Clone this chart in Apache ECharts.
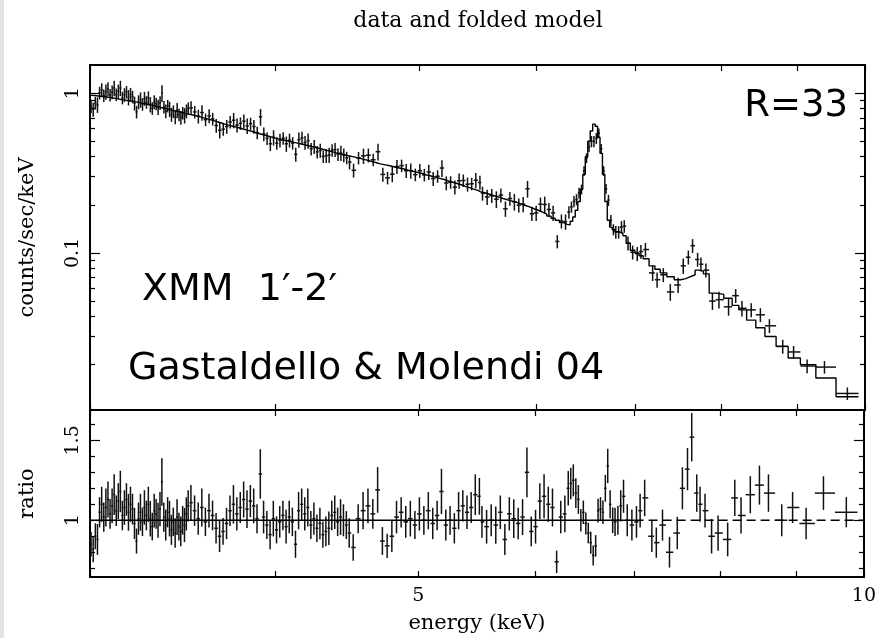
<!DOCTYPE html>
<html>
<head>
<meta charset="utf-8">
<script src="https://cdn.jsdelivr.net/npm/echarts@6/dist/echarts.min.js"></script>
<style>
html,body{margin:0;padding:0;background:#fff;}
#chart{width:879px;height:638px;}
</style>
</head>
<body>
<div id="chart"></div>
<script>
// ---------------- DATA ----------------
// bin centre energies (keV)
const energy = [
  3.005,3.015,3.025,3.035,3.045,3.055,3.065,3.075,3.085,3.095,
  3.105,3.115,3.125,3.135,3.145,3.155,3.165,3.175,3.185,3.195,
  3.205,3.215,3.225,3.235,3.245,3.255,3.265,3.275,3.285,3.295,
  3.305,3.315,3.325,3.335,3.345,3.355,3.365,3.375,3.385,3.395,
  3.405,3.415,3.425,3.435,3.445,3.455,3.465,3.475,3.485,3.495,
  3.51,3.53,3.55,3.57,3.59,3.61,3.63,3.65,3.67,3.69,
  3.71,3.73,3.75,3.77,3.79,3.81,3.83,3.85,3.87,3.89,
  3.91,3.93,3.95,3.97,3.99,4.01,4.03,4.05,4.07,4.09,
  4.11,4.13,4.15,4.17,4.19,4.21,4.23,4.25,4.27,4.29,
  4.31,4.33,4.35,4.37,4.39,4.41,4.43,4.45,4.47,4.49,
  4.518,4.553,4.588,4.623,4.658,4.693,4.728,4.763,4.798,4.833,
  4.868,4.903,4.938,4.973,5.008,5.043,5.078,5.113,5.148,5.183,
  5.218,5.253,5.288,5.323,5.358,5.393,5.428,5.463,5.498,
  5.52,5.56,5.60,5.64,5.68,5.72,5.76,5.80,5.84,5.88,
  5.92,5.96,6.00,6.04,6.08,6.12,6.16,6.20,6.24,6.28,
  6.313,6.338,6.363,6.388,6.413,6.438,6.463,6.488,6.513,6.538,
  6.563,6.588,6.613,6.638,6.663,6.688,6.713,6.738,
  6.765,6.79,6.82,6.85,6.88,6.92,6.97,7.02,7.06,7.11,
  7.19,7.24,7.31,7.39,7.48,7.54,7.60,7.65,7.71,7.75,
  7.81,7.89,7.97,8.09,8.18,8.26,8.38,8.50,8.62,8.80,
  8.95,9.14,9.39,9.73
];
// folded model (counts/sec/keV) per bin
const model = [
  0.968,0.966,0.963,0.960,0.957,0.953,0.949,0.945,0.941,0.937,
  0.932,0.928,0.923,0.918,0.913,0.908,0.904,0.900,0.896,0.892,
  0.887,0.882,0.877,0.872,0.867,0.862,0.857,0.852,0.847,0.842,
  0.837,0.831,0.825,0.819,0.813,0.807,0.802,0.797,0.792,0.787,
  0.782,0.777,0.772,0.767,0.762,0.757,0.752,0.747,0.742,0.737,
  0.730,0.720,0.710,0.700,0.690,0.680,0.670,0.660,0.650,0.640,
  0.631,0.623,0.615,0.607,0.599,0.591,0.583,0.575,0.567,0.559,
  0.551,0.544,0.537,0.530,0.523,0.517,0.512,0.507,0.502,0.497,
  0.492,0.487,0.482,0.477,0.472,0.467,0.462,0.457,0.452,0.447,
  0.442,0.437,0.432,0.427,0.422,0.418,0.414,0.410,0.406,0.402,
  0.396,0.389,0.382,0.375,0.368,0.361,0.356,0.351,0.345,0.340,
  0.335,0.330,0.324,0.319,0.314,0.308,0.303,0.298,0.293,0.288,
  0.282,0.277,0.272,0.267,0.261,0.256,0.251,0.246,0.240,
  0.238,0.233,0.228,0.224,0.219,0.215,0.211,0.207,0.203,0.198,
  0.194,0.189,0.185,0.180,0.175,0.170,0.165,0.160,0.155,0.151,
  0.150,0.158,0.168,0.185,0.210,0.250,0.310,0.400,0.500,0.580,
  0.640,0.620,0.530,0.420,0.310,0.210,0.160,0.145,
  0.140,0.136,0.135,0.133,0.128,0.115,0.104,0.100,0.096,0.092,
  0.083,0.079,0.075,0.071,0.068,0.069,0.071,0.073,0.078,0.077,
  0.074,0.056,0.055,0.052,0.047,0.044,0.038,0.034,0.030,0.026,
  0.022,0.020,0.0165,0.0126
];
// measured data (counts/sec/keV)
const counts = [
  0.823,0.792,0.867,0.845,1.005,1.048,0.968,1.021,1.063,0.974,
  1.016,1.076,0.978,1.028,1.077,0.935,0.976,1.017,0.941,0.981,
  0.949,0.864,0.763,0.881,0.910,0.853,0.926,0.878,0.932,0.850,
  0.804,0.881,0.858,0.819,0.870,1.001,0.818,0.773,0.832,0.795,
  0.735,0.769,0.710,0.782,0.732,0.704,0.752,0.725,0.772,0.803,
  0.810,0.763,0.717,0.756,0.683,0.721,0.690,0.627,0.585,0.595,
  0.618,0.660,0.677,0.631,0.647,0.668,0.624,0.644,0.618,0.565,
  0.711,0.555,0.521,0.482,0.528,0.486,0.507,0.522,0.482,0.507,
  0.487,0.414,0.511,0.525,0.491,0.504,0.448,0.462,0.429,0.438,
  0.402,0.406,0.410,0.440,0.443,0.414,0.422,0.410,0.394,0.370,
  0.329,0.393,0.405,0.409,0.383,0.430,0.310,0.295,0.311,0.347,
  0.352,0.327,0.327,0.309,0.327,0.308,0.321,0.292,0.302,0.340,
  0.274,0.277,0.258,0.283,0.284,0.269,0.271,0.285,0.276,
  0.236,0.224,0.228,0.217,0.230,0.189,0.219,0.209,0.199,0.202,
  0.252,0.176,0.178,0.202,0.201,0.187,0.178,0.118,0.158,0.157,
  0.180,0.194,0.210,0.216,0.237,0.250,0.326,0.392,0.460,0.499,
  0.499,0.521,0.562,0.449,0.326,0.252,0.214,0.160,
  0.140,0.135,0.135,0.145,0.147,0.115,0.101,0.099,0.102,0.105,
  0.075,0.068,0.073,0.057,0.063,0.083,0.094,0.111,0.091,0.085,
  0.078,0.050,0.051,0.046,0.054,0.045,0.044,0.041,0.035,0.026,
  0.024,0.0196,0.0193,0.0132
];
// data / model ratio
const ratio = [
  0.85,0.82,0.90,0.88,1.05,1.10,1.02,1.08,1.13,1.04,
  1.09,1.16,1.06,1.12,1.18,1.03,1.08,1.13,1.05,1.10,
  1.07,0.98,0.87,1.01,1.05,0.99,1.08,1.03,1.10,1.01,
  0.96,1.06,1.04,1.00,1.07,1.24,1.02,0.97,1.05,1.01,
  0.94,0.99,0.92,1.02,0.96,0.93,1.00,0.97,1.04,1.09,
  1.11,1.06,1.01,1.08,0.99,1.06,1.03,0.95,0.90,0.93,
  0.98,1.06,1.10,1.04,1.08,1.13,1.07,1.12,1.09,1.01,
  1.29,1.02,0.97,0.91,1.01,0.94,0.99,1.03,0.96,1.02,
  0.99,0.85,1.06,1.10,1.04,1.08,0.97,1.01,0.95,0.98,
  0.91,0.93,0.95,1.03,1.05,0.99,1.02,1.00,0.97,0.92,
  0.83,1.01,1.06,1.09,1.04,1.19,0.87,0.84,0.90,1.02,
  1.05,0.99,1.01,0.97,1.04,1.00,1.06,0.98,1.03,1.18,
  0.97,1.00,0.95,1.06,1.09,1.05,1.08,1.16,1.15,
  0.99,0.96,1.00,0.97,1.05,0.88,1.04,1.01,0.98,1.02,
  1.30,0.93,0.96,1.12,1.15,1.10,1.08,0.74,1.02,1.04,
  1.20,1.23,1.25,1.17,1.13,1.00,1.05,0.98,0.92,0.86,
  0.78,0.84,1.06,1.07,1.05,1.20,1.34,1.10,
  1.00,0.99,1.00,1.09,1.15,1.00,0.97,0.99,1.06,1.14,
  0.90,0.86,0.97,0.80,0.92,1.20,1.32,1.52,1.17,1.10,
  1.06,0.90,0.92,0.88,1.14,1.03,1.16,1.22,1.17,1.00,
  1.08,0.98,1.17,1.05
];
// fractional 1-sigma error of each bin
const fracErr = [
  0.09,0.10,0.09,0.11,0.09,0.10,0.09,0.11,0.10,0.09,
  0.10,0.11,0.09,0.10,0.11,0.09,0.10,0.09,0.11,0.10,
  0.09,0.10,0.09,0.10,0.11,0.09,0.10,0.09,0.10,0.11,
  0.09,0.10,0.09,0.11,0.10,0.12,0.09,0.10,0.09,0.11,
  0.10,0.09,0.10,0.11,0.09,0.10,0.09,0.11,0.10,0.09,
  0.10,0.09,0.10,0.11,0.09,0.10,0.09,0.10,0.11,0.09,
  0.10,0.09,0.11,0.10,0.09,0.10,0.11,0.09,0.10,0.09,
  0.12,0.10,0.09,0.10,0.11,0.09,0.10,0.09,0.11,0.10,
  0.09,0.10,0.11,0.09,0.10,0.11,0.09,0.10,0.09,0.10,
  0.09,0.10,0.11,0.09,0.10,0.09,0.11,0.10,0.09,0.10,
  0.10,0.09,0.11,0.10,0.09,0.12,0.10,0.09,0.11,0.10,
  0.09,0.10,0.11,0.09,0.10,0.09,0.11,0.10,0.09,0.12,
  0.10,0.09,0.10,0.11,0.09,0.10,0.09,0.11,0.10,
  0.10,0.11,0.10,0.12,0.10,0.11,0.10,0.12,0.10,0.11,
  0.12,0.10,0.11,0.10,0.12,0.10,0.11,0.095,0.10,0.11,
  0.09,0.08,0.08,0.08,0.08,0.07,0.07,0.07,0.07,0.08,
  0.08,0.08,0.07,0.07,0.07,0.07,0.08,0.08,
  0.08,0.09,0.09,0.09,0.09,0.10,0.10,0.10,0.10,0.10,
  0.11,0.11,0.10,0.12,0.11,0.11,0.10,0.10,0.10,0.10,
  0.10,0.12,0.12,0.12,0.10,0.11,0.10,0.10,0.10,0.10,
  0.09,0.10,0.09,0.09
];

// axis ranges and tick values
const xRange = [3, 10];
const xTicks = [3, 4, 5, 6, 7, 8, 9, 10];
const xLabels = [5, 10];
const yTopRange = [0.0104, 1.5];
const yTopMajor = [0.1, 1];
const yTopMinor = [0.02,0.03,0.04,0.05,0.06,0.07,0.08,0.09,0.2,0.3,0.4,0.5,0.6,0.7,0.8,0.9];
const yRatioRange = [0.645, 1.69];
const yRatioMajor = [1, 1.5];
const yRatioMinor = [0.7,0.8,0.9,1.1,1.2,1.3,1.4,1.6];
const ratioDashFrom = 7.0;   // ratio = 1 reference line looks dashed only where bins are wide

// texts
const titleText = 'data and folded model';
const xName = 'energy (keV)';
const yTopName = 'counts/sec/keV';
const yRatioName = 'ratio';
const noteR = 'R=33';
const noteXMM = "XMM  1\u2032-2\u2032";
const noteRef = 'Gastaldello & Molendi 04';

// ---------------- CHART ----------------
const L = Math.log10;
const n = energy.length;
const lo = [], hi = [];
for (let i = 0; i < n; i++) {
  lo.push(i === 0 ? energy[0] - (energy[1] - energy[0]) / 2 : (energy[i - 1] + energy[i]) / 2);
  hi.push(i === n - 1 ? energy[n - 1] + (energy[n - 1] - energy[n - 2]) / 2 : (energy[i] + energy[i + 1]) / 2);
}
const topErr = energy.map((e, i) => [L(e), L(lo[i]), L(hi[i]), L(counts[i]),
  L(counts[i] * (1 - fracErr[i])), L(counts[i] * (1 + fracErr[i]))]);
const ratErr = energy.map((e, i) => [L(e), L(lo[i]), L(hi[i]), ratio[i],
  ratio[i] * (1 - fracErr[i]), ratio[i] * (1 + fracErr[i])]);
const modelLine = energy.map((e, i) => [L(lo[i]), L(model[i])]);
modelLine.push([L(hi[n - 1]), L(model[n - 1])]);

const INK = '#000';
const serif = '"DejaVu Serif", "Liberation Serif", serif';
const hand = '"Comic Sans MS", "DejaVu Sans", sans-serif';

function errItem(params, api) {
  const xc = api.value(0), xl = api.value(1), xh = api.value(2);
  const y = api.value(3), yl = api.value(4), yh = api.value(5);
  const a = api.coord([xl, y]), b = api.coord([xh, y]);
  const c = api.coord([xc, yl]), d = api.coord([xc, yh]);
  const st = { stroke: '#111', lineWidth: 1.5 };
  return { type: 'group', children: [
    { type: 'line', shape: { x1: a[0], y1: a[1], x2: b[0], y2: b[1] }, style: st },
    { type: 'line', shape: { x1: c[0], y1: c[1], x2: d[0], y2: d[1] }, style: st }
  ]};
}

function xAx(gi, pos, withLabels, name) {
  return {
    type: 'value', gridIndex: gi, position: pos,
    min: L(xRange[0]), max: L(xRange[1]),
    name: name || '', nameLocation: 'middle', nameGap: 36,
    nameTextStyle: { color: INK, fontFamily: serif, fontSize: 21 },
    axisLine: { show: true, onZero: false, lineStyle: { color: INK, width: 1.8 } },
    axisTick: { show: true, inside: true, length: 6, customValues: xTicks.map(L),
      lineStyle: { color: INK, width: 1.2 } },
    axisLabel: { show: !!withLabels, customValues: xLabels.map(L), margin: 10,
      formatter: v => String(Math.round(Math.pow(10, v))),
      color: INK, fontFamily: serif, fontSize: 19 },
    splitLine: { show: false }
  };
}

function yAx(gi, pos, range, ticks, len, labelFmt, name, logScale) {
  const tr = logScale ? L : (v => v);
  return {
    type: 'value', gridIndex: gi, position: pos,
    min: tr(range[0]), max: tr(range[1]),
    name: name || '', nameLocation: 'middle', nameGap: 52,
    nameTextStyle: { color: INK, fontFamily: serif, fontSize: 21 },
    axisLine: { show: true, onZero: false, lineStyle: { color: INK, width: 1.8 } },
    axisTick: { show: true, inside: true, length: len, customValues: ticks.map(tr),
      lineStyle: { color: INK, width: 1.2 } },
    axisLabel: { show: !!labelFmt, customValues: ticks.map(tr), rotate: 90, margin: 7,
      formatter: labelFmt || (v => ''), color: INK, fontFamily: serif, fontSize: 19 },
    splitLine: { show: false }
  };
}

const topFmt = v => String(+Math.pow(10, v).toPrecision(1));
const ratFmt = v => String(+v.toPrecision(2));

const option = {
  animation: false,
  backgroundColor: '#fff',
  grid: [
    { left: 90, top: 65, width: 775, height: 345 },
    { left: 90, top: 410, width: 775, height: 167 }
  ],
  xAxis: [
    xAx(0, 'bottom', false),
    xAx(0, 'top', false),
    xAx(1, 'bottom', true, xName),
    xAx(1, 'top', false)
  ],
  yAxis: [
    yAx(0, 'left', yTopRange, yTopMajor, 10, topFmt, yTopName, true),
    yAx(0, 'left', yTopRange, yTopMinor, 5, null, '', true),
    yAx(0, 'right', yTopRange, yTopMajor, 10, null, '', true),
    yAx(0, 'right', yTopRange, yTopMinor, 5, null, '', true),
    yAx(1, 'left', yRatioRange, yRatioMajor, 10, ratFmt, yRatioName, false),
    yAx(1, 'left', yRatioRange, yRatioMinor, 5, null, '', false),
    yAx(1, 'right', yRatioRange, yRatioMajor, 10, null, '', false),
    yAx(1, 'right', yRatioRange, yRatioMinor, 5, null, '', false)
  ],
  series: [
    { type: 'line', xAxisIndex: 0, yAxisIndex: 0, data: modelLine, step: 'end',
      showSymbol: false, silent: true, lineStyle: { color: INK, width: 1.4 }, z: 3 },
    { type: 'custom', xAxisIndex: 0, yAxisIndex: 0, data: topErr,
      encode: { x: [0, 1, 2], y: [3, 4, 5] }, renderItem: errItem, clip: true, silent: true, z: 2 },
    { type: 'line', xAxisIndex: 2, yAxisIndex: 4,
      data: [[L(xRange[0]), 1], [L(ratioDashFrom), 1]],
      showSymbol: false, silent: true, lineStyle: { color: INK, width: 1.3 }, z: 3 },
    { type: 'line', xAxisIndex: 2, yAxisIndex: 4,
      data: [[L(ratioDashFrom), 1], [L(xRange[1]), 1]],
      showSymbol: false, silent: true, lineStyle: { color: INK, width: 1.3, type: [9, 5] }, z: 3 },
    { type: 'custom', xAxisIndex: 2, yAxisIndex: 4, data: ratErr,
      encode: { x: [0, 1, 2], y: [3, 4, 5] }, renderItem: errItem, clip: true, silent: true, z: 2 }
  ],
  graphic: [
    { type: 'rect', shape: { x: 0, y: 0, width: 4, height: 638 }, style: { fill: '#e3e3e3' }, silent: true },
    { type: 'text', x: 478, y: 21, style: { text: titleText, font: '22px ' + serif, fill: INK,
        textAlign: 'center', textVerticalAlign: 'middle' } },
    { type: 'text', x: 848, y: 106, style: { text: noteR, font: '37px ' + hand, fill: INK,
        textAlign: 'right', textVerticalAlign: 'middle' } },
    { type: 'text', x: 142, y: 290, style: { text: noteXMM, font: '38px ' + hand, fill: INK,
        textAlign: 'left', textVerticalAlign: 'middle' } },
    { type: 'text', x: 128, y: 369, style: { text: noteRef, font: '38px ' + hand, fill: INK,
        textAlign: 'left', textVerticalAlign: 'middle' } }
  ]
};

const chart = echarts.init(document.getElementById('chart'), null, { renderer: 'canvas' });
chart.setOption(option);
</script>
</body>
</html>
